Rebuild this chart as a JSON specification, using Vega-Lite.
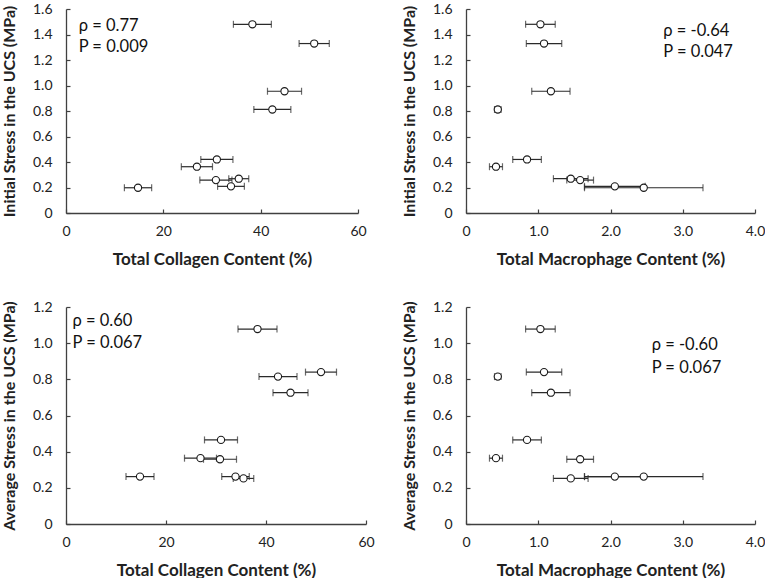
{
  "$schema": "https://vega.github.io/schema/vega-lite/v6.json",
  "padding": {"top": 2, "left": 1, "right": 0, "bottom": 0},
  "background": "white",
  "datasets": {
    "samples": [
      {"sample": "A", "collagen": 38.3, "collagen_sd": 3.9, "macrophage": 1.03, "macrophage_sd": 0.205, "initial": 1.48, "average": 1.078},
      {"sample": "B", "collagen": 51.0, "collagen_sd": 3.1, "macrophage": 1.08, "macrophage_sd": 0.245, "initial": 1.329, "average": 0.84},
      {"sample": "C", "collagen": 44.9, "collagen_sd": 3.5, "macrophage": 1.175, "macrophage_sd": 0.265, "initial": 0.955, "average": 0.726},
      {"sample": "D", "collagen": 42.4, "collagen_sd": 3.8, "macrophage": 0.44, "macrophage_sd": 0.045, "initial": 0.812, "average": 0.815},
      {"sample": "E", "collagen": 31.0, "collagen_sd": 3.3, "macrophage": 0.845, "macrophage_sd": 0.198, "initial": 0.42, "average": 0.465},
      {"sample": "F", "collagen": 26.9, "collagen_sd": 3.2, "macrophage": 0.415, "macrophage_sd": 0.09, "initial": 0.363, "average": 0.364},
      {"sample": "G", "collagen": 30.8, "collagen_sd": 3.3, "macrophage": 1.58, "macrophage_sd": 0.185, "initial": 0.258, "average": 0.358},
      {"sample": "H", "collagen": 35.5, "collagen_sd": 2.05, "macrophage": 1.45, "macrophage_sd": 0.24, "initial": 0.269, "average": 0.252},
      {"sample": "I", "collagen": 33.9, "collagen_sd": 2.75, "macrophage": 2.06, "macrophage_sd": 0.42, "initial": 0.209, "average": 0.262},
      {"sample": "J", "collagen": 14.8, "collagen_sd": 2.8, "macrophage": 2.46, "macrophage_sd": 0.82, "initial": 0.198, "average": 0.262}
    ]
  },
  "data": {"name": "samples"},
  "vconcat": [
    {
      "hconcat": [
        {
          "width": 292, "height": 204,
          "encoding": {
            "x": {"field": "collagen", "type": "quantitative", "scale": {"domain": [0, 60], "nice": false}, "axis": {"values": [0, 20, 40, 60], "title": "Total Collagen Content (%)"}},
            "y": {"field": "initial", "type": "quantitative", "scale": {"domain": [0, 1.6], "nice": false}, "axis": {"values": [0, 0.2, 0.4, 0.6, 0.8, 1.0, 1.2, 1.4, 1.6], "labelExpr": "datum.value == 0 ? '0' : format(datum.value, '.1f')", "title": "Initial Stress in the UCS (MPa)"}}
          },
          "layer": [
            {"mark": {"type": "errorbar", "ticks": {"size": 7, "color": "#2a2a2a"}, "color": "#2a2a2a", "thickness": 1.2},
             "encoding": {"xError": {"field": "collagen_sd"}}},
            {"mark": {"type": "point", "shape": "circle", "size": 52, "filled": true, "fill": "white", "stroke": "#1a1a1a", "strokeWidth": 1.1, "opacity": 1}},
            {"data": {"values": [{"t": "ρ = 0.77", "x": 2.6, "y": 1.465}, {"t": "P = 0.009", "x": 2.6, "y": 1.30}]},
             "mark": {"type": "text", "align": "left", "baseline": "middle", "fontSize": 16.5, "color": "#111"},
             "encoding": {"x": {"field": "x", "type": "quantitative"}, "y": {"field": "y", "type": "quantitative"}, "text": {"field": "t"}}}
          ]
        },
        {
          "width": 289, "height": 204,
          "encoding": {
            "x": {"field": "macrophage", "type": "quantitative", "scale": {"domain": [0, 4], "nice": false}, "axis": {"values": [0, 1, 2, 3, 4], "labelExpr": "datum.value == 0 ? '0' : format(datum.value, '.1f')", "title": "Total Macrophage Content (%)"}},
            "y": {"field": "initial", "type": "quantitative", "scale": {"domain": [0, 1.6], "nice": false}, "axis": {"values": [0, 0.2, 0.4, 0.6, 0.8, 1.0, 1.2, 1.4, 1.6], "labelExpr": "datum.value == 0 ? '0' : format(datum.value, '.1f')", "title": "Initial Stress in the UCS (MPa)"}}
          },
          "layer": [
            {"mark": {"type": "errorbar", "ticks": {"size": 7, "color": "#2a2a2a"}, "color": "#2a2a2a", "thickness": 1.2},
             "encoding": {"xError": {"field": "macrophage_sd"}}},
            {"mark": {"type": "point", "shape": "circle", "size": 52, "filled": true, "fill": "white", "stroke": "#1a1a1a", "strokeWidth": 1.1, "opacity": 1}},
            {"data": {"values": [{"t": "ρ = -0.64", "x": 2.73, "y": 1.425}, {"t": "P = 0.047", "x": 2.73, "y": 1.26}]},
             "mark": {"type": "text", "align": "left", "baseline": "middle", "fontSize": 16.5, "color": "#111"},
             "encoding": {"x": {"field": "x", "type": "quantitative"}, "y": {"field": "y", "type": "quantitative"}, "text": {"field": "t"}}}
          ]
        }
      ],
      "spacing": 34
    },
    {
      "hconcat": [
        {
          "width": 300, "height": 217,
          "encoding": {
            "x": {"field": "collagen", "type": "quantitative", "scale": {"domain": [0, 60], "nice": false}, "axis": {"values": [0, 20, 40, 60], "title": "Total Collagen Content (%)"}},
            "y": {"field": "average", "type": "quantitative", "scale": {"domain": [0, 1.2], "nice": false}, "axis": {"values": [0, 0.2, 0.4, 0.6, 0.8, 1.0, 1.2], "labelExpr": "datum.value == 0 ? '0' : format(datum.value, '.1f')", "title": "Average Stress in the UCS (MPa)"}}
          },
          "layer": [
            {"mark": {"type": "errorbar", "ticks": {"size": 7, "color": "#2a2a2a"}, "color": "#2a2a2a", "thickness": 1.2},
             "encoding": {"xError": {"field": "collagen_sd"}}},
            {"mark": {"type": "point", "shape": "circle", "size": 52, "filled": true, "fill": "white", "stroke": "#1a1a1a", "strokeWidth": 1.1, "opacity": 1}},
            {"data": {"values": [{"t": "ρ = 0.60", "x": 1.3, "y": 1.122}, {"t": "P = 0.067", "x": 1.3, "y": 0.999}]},
             "mark": {"type": "text", "align": "left", "baseline": "middle", "fontSize": 16.5, "color": "#111"},
             "encoding": {"x": {"field": "x", "type": "quantitative"}, "y": {"field": "y", "type": "quantitative"}, "text": {"field": "t"}}}
          ]
        },
        {
          "width": 289, "height": 217,
          "encoding": {
            "x": {"field": "macrophage", "type": "quantitative", "scale": {"domain": [0, 4], "nice": false}, "axis": {"values": [0, 1, 2, 3, 4], "labelExpr": "datum.value == 0 ? '0' : format(datum.value, '.1f')", "title": "Total Macrophage Content (%)"}},
            "y": {"field": "average", "type": "quantitative", "scale": {"domain": [0, 1.2], "nice": false}, "axis": {"values": [0, 0.2, 0.4, 0.6, 0.8, 1.0, 1.2], "labelExpr": "datum.value == 0 ? '0' : format(datum.value, '.1f')", "title": "Average Stress in the UCS (MPa)"}}
          },
          "layer": [
            {"mark": {"type": "errorbar", "ticks": {"size": 7, "color": "#2a2a2a"}, "color": "#2a2a2a", "thickness": 1.2},
             "encoding": {"xError": {"field": "macrophage_sd"}}},
            {"mark": {"type": "point", "shape": "circle", "size": 52, "filled": true, "fill": "white", "stroke": "#1a1a1a", "strokeWidth": 1.1, "opacity": 1}},
            {"data": {"values": [{"t": "ρ = -0.60", "x": 2.57, "y": 0.988}, {"t": "P = 0.067", "x": 2.57, "y": 0.861}]},
             "mark": {"type": "text", "align": "left", "baseline": "middle", "fontSize": 16.5, "color": "#111"},
             "encoding": {"x": {"field": "x", "type": "quantitative"}, "y": {"field": "y", "type": "quantitative"}, "text": {"field": "t"}}}
          ]
        }
      ],
      "spacing": 26
    }
  ],
  "spacing": 33,
  "config": {
    "font": "Lato",
    "view": {"stroke": null},
    "axis": {
      "grid": false,
      "domainColor": "#404040",
      "domainWidth": 1.3,
      "tickColor": "#404040",
      "tickWidth": 1.2,
      "tickSize": -4,
      "labelFontSize": 14,
      "labelColor": "#222",
      "labelOverlap": false,
      "labelFlush": false,
      "titleFontWeight": "bold",
      "titleColor": "#222"
    },
    "axisX": {"labelPadding": 15, "titlePadding": 13, "titleFontSize": 17},
    "axisY": {"labelPadding": 18, "titlePadding": 15, "titleFontSize": 16}
  }
}
